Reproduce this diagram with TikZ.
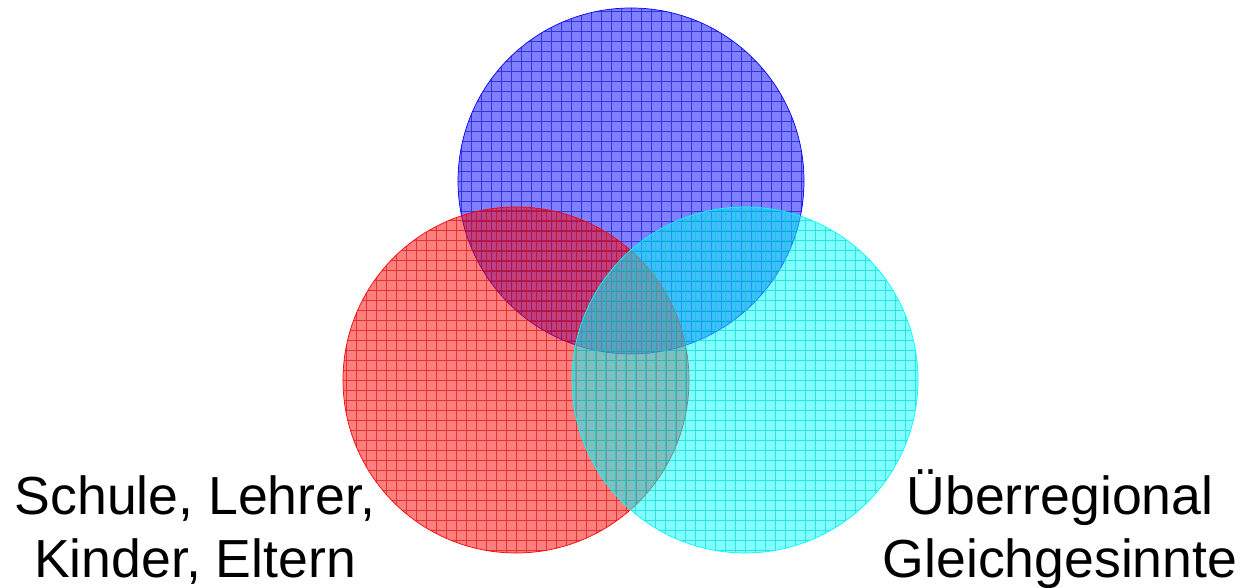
\documentclass[tikz,border=0pt]{standalone}
\usepackage{fontspec}
\setmainfont{Liberation Sans}
\usepackage{tikz}
\usetikzlibrary{positioning, calc}
\definecolor{setblue}{RGB}{0, 0, 255}
\definecolor{setred}{RGB}{255, 0, 0}
\definecolor{setcyan}{RGB}{0, 255, 255}
\tikzset{
    setcircle/.style={circle, draw=#1, thin, fill=#1, fill opacity=0.5, minimum size=6.92cm, inner sep=0pt,
        path picture={\draw[#1!80!black, draw opacity=0.6, line width=0.5pt, step=0.2cm]
            (path picture bounding box.south west) grid (path picture bounding box.north east);}},
    grouplabel/.style={font=\fontsize{30.5}{36}\selectfont, align=center, inner sep=0pt},
}
\begin{document}
\begin{tikzpicture}
    \useasboundingbox (0, 0) rectangle (24.86, 11.76);

    % Mengen
    \node[setcircle=setblue] (online) at (12.62, 8.14) {};
    \node[setcircle=setred] (schule) at (10.32, 4.16) {};
    \node[setcircle=setcyan] (regional) at (14.9, 4.16) {};

    % Beschriftungen
    \node[grouplabel, anchor=base] (schulelabel) at (3.9, 0.2) {Schule, Lehrer,\\Kinder, Eltern};
    \node[grouplabel, anchor=base] (regionallabel) at (21.2, 0.2) {Überregional\\Gleichgesinnte};
\end{tikzpicture}
\end{document}
